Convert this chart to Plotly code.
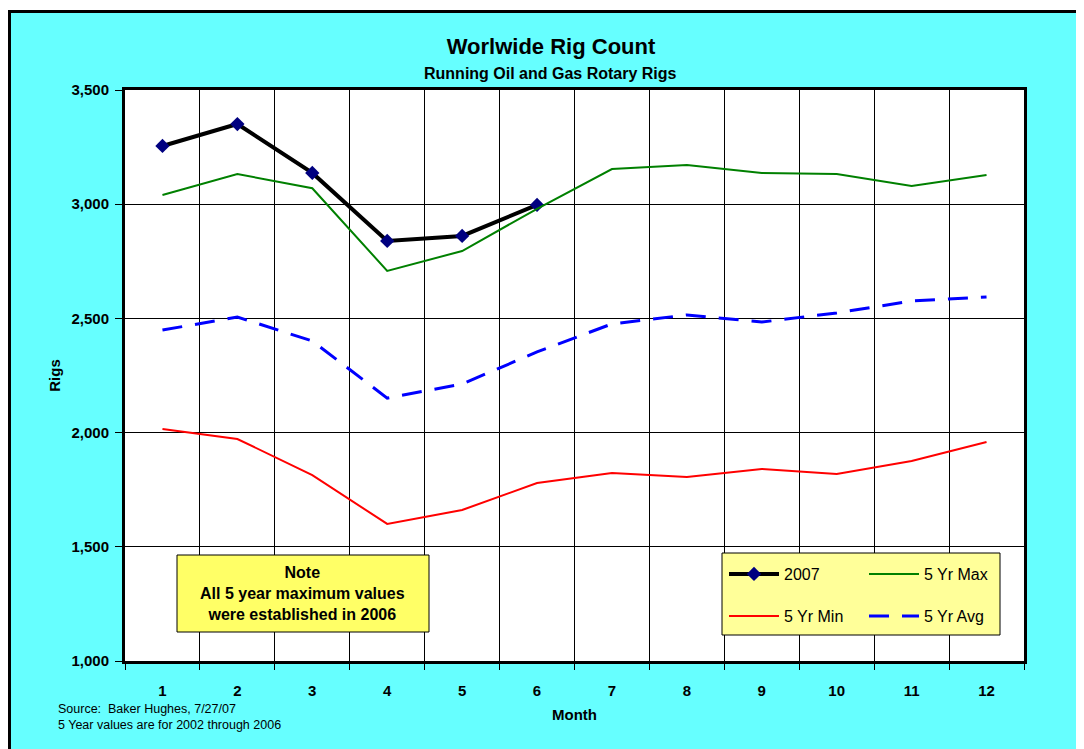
import plotly.graph_objects as go

months = list(range(1, 13))
month_labels = [str(m) for m in months]
rig_2007 = [3255, 3351, 3137, 2839, 2861, 2997]
max_5yr = [3040, 3132, 3070, 2708, 2795, 2980, 3154, 3172, 3137, 3132, 3080, 3128]
min_5yr = [2016, 1972, 1814, 1600, 1661, 1779, 1823, 1806, 1841, 1819, 1876, 1959]
avg_5yr = [2449, 2506, 2401, 2151, 2213, 2353, 2476, 2515, 2484, 2524, 2576, 2594]
y_ticks = [1000, 1500, 2000, 2500, 3000, 3500]

W, H = 1084, 749
OFF = 8  # page offset of the figure (body margin)
L, T = 117, 82
PW, PH = 899, 571
R = W - L - PW
B = H - T - PH


def px(x):
    """page x -> paper x"""
    return (x - OFF - L) / PW


def py(y):
    """page y -> paper y"""
    return (T + PH - (y - OFF)) / PH


FONT = "Liberation Sans, Arial, sans-serif"

fig = go.Figure()
fig.add_trace(go.Scatter(x=months[:6], y=rig_2007, name="2007", mode="lines+markers",
                         line=dict(color="black", width=4),
                         marker=dict(symbol="diamond", size=11, color="#000080"),
                         legend="legend"))
fig.add_trace(go.Scatter(x=months, y=max_5yr, name="5 Yr Max", mode="lines",
                         line=dict(color="#008000", width=2), legend="legend"))
fig.add_trace(go.Scatter(x=months, y=min_5yr, name="5 Yr Min", mode="lines",
                         line=dict(color="#FF0000", width=2), legend="legend2"))
fig.add_trace(go.Scatter(x=months, y=avg_5yr, name="5 Yr Avg", mode="lines",
                         line=dict(color="#0000FF", width=3, dash="20px,13px"),
                         legend="legend2"))

legend_common = dict(orientation="h", bgcolor="rgba(0,0,0,0)", borderwidth=0,
                     font=dict(family=FONT, size=16, color="black"),
                     entrywidth=75, entrywidthmode="pixels",
                     xanchor="left", yanchor="middle", itemwidth=50)

shapes = [
    dict(type="rect", xref="paper", yref="paper", x0=px(0), x1=px(1100), y0=py(0), y1=py(10),
         fillcolor="white", line=dict(width=0), layer="above"),
    dict(type="line", xref="paper", yref="paper", x0=px(9.5), x1=px(9.5), y0=py(10), y1=py(760),
         line=dict(color="black", width=3), layer="above"),
    dict(type="line", xref="paper", yref="paper", x0=px(8), x1=px(1100), y0=py(11.5), y1=py(11.5),
         line=dict(color="black", width=3), layer="above"),
    dict(type="rect", xref="paper", yref="paper", x0=px(722), x1=px(1000), y0=py(553), y1=py(635),
         fillcolor="#FFFF99", line=dict(color="black", width=1), layer="above"),
    dict(type="rect", xref="paper", yref="paper", x0=px(177), x1=px(429), y0=py(555), y1=py(632),
         fillcolor="#FFFF66", line=dict(color="black", width=1), layer="above"),
]

annotations = [
    dict(text="<b>Running Oil and Gas Rotary Rigs</b>", xref="paper", yref="paper",
         x=px(550), y=py(73), showarrow=False, xanchor="center", yanchor="middle",
         font=dict(family=FONT, size=16, color="black")),
    dict(text="<b>Note<br>All 5 year maximum values<br>were established in 2006</b>",
         xref="paper", yref="paper", x=px(302), y=py(593), showarrow=False,
         xanchor="center", yanchor="middle",
         font=dict(family=FONT, size=16, color="black"), align="center"),
    dict(text="Source:  Baker Hughes, 7/27/07<br>5 Year values are for 2002 through 2006",
         xref="paper", yref="paper", x=px(56), y=py(717), xanchor="left", yanchor="middle",
         showarrow=False, align="left", font=dict(family=FONT, size=12.5, color="black")),
]

fig.update_layout(
    width=W, height=H,
    margin=dict(l=L, r=R, t=T, b=B, autoexpand=False),
    paper_bgcolor="#66FFFF", plot_bgcolor="white",
    title=dict(text="<b>Worlwide Rig Count</b>", x=(551 - OFF) / W, xref="container",
               xanchor="center", y=1 - (46 - OFF) / H, yref="container", yanchor="middle",
               font=dict(family=FONT, size=22, color="black")),
    showlegend=True,
    legend=dict(x=px(724), y=py(574), **legend_common),
    legend2=dict(x=px(724), y=py(616), **legend_common),
    shapes=shapes, annotations=annotations,
    xaxis=dict(range=[0.5, 12.5], tickmode="array", tickvals=months, ticktext=month_labels,
               ticks="", showgrid=False, zeroline=False, ticklabelstandoff=14,
               showline=True, linecolor="black", linewidth=3, mirror=True,
               minor=dict(tickmode="array", tickvals=[m + 0.5 for m in range(0, 13)],
                          ticks="outside", ticklen=6, tickcolor="black", tickwidth=1,
                          showgrid=True, gridcolor="black", gridwidth=1),
               tickfont=dict(family=FONT, size=15, color="black", weight="bold"),
               title=dict(text="<b>Month</b>", font=dict(family=FONT, size=15, color="black"),
                          standoff=12)),
    yaxis=dict(range=[1000, 3500], tickmode="array", tickvals=y_ticks, tickformat=",",
               ticks="outside", ticklen=7, tickcolor="black", ticklabelstandoff=3,
               showgrid=True, gridcolor="black", gridwidth=1, zeroline=False,
               showline=True, linecolor="black", linewidth=3, mirror=True,
               tickfont=dict(family=FONT, size=15, color="black", weight="bold"),
               title=dict(text="<b>Rigs</b>", font=dict(family=FONT, size=15, color="black"),
                          standoff=8)),
)

fig.write_html("out.html")
